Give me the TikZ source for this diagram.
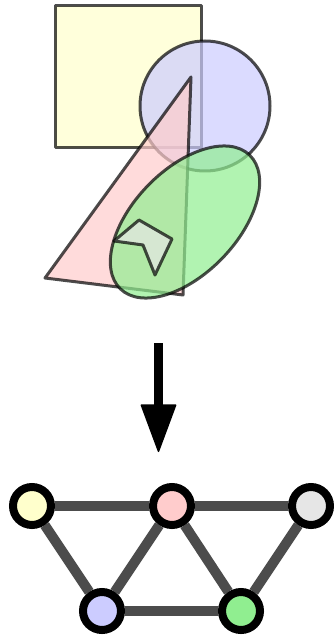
\documentclass[tikz,border=0pt]{standalone}
\usetikzlibrary{arrows.meta,backgrounds}
\definecolor{regyellow}{HTML}{FFFFCC}
\definecolor{regblue}{HTML}{CCCCFF}
\definecolor{regpink}{HTML}{FFCCCC}
\definecolor{reggreen}{HTML}{90EE90}
\definecolor{reggray}{HTML}{E6E6E6}
\tikzset{region/.style = {draw=black, line width=3pt, opacity=.7, line join=round},
  vertex/.style = {circle, draw=black, line width=8pt, minimum size=38pt, inner sep=0pt},
  link/.style = {draw=black!70, line width=10pt}}

\begin{document}
\begin{tikzpicture}[x=1pt, y=-1pt]
  \useasboundingbox (0,0) rectangle (334,636);
  % overlapping regions
  \path[region, fill=regyellow] (55,6) rectangle (201,148);
  \path[region, fill=regblue] (205,106) circle [radius=65];
  \path[region, fill=regpink] (191,77) -- (45,278) -- (183,295) -- cycle;
  \path[region, fill=reggreen, rotate around={46:(185,222)}]
    (185,222) ellipse [x radius=93, y radius=52];
  \path[region, fill=reggray] (139,220) -- (172,239) -- (155,275) -- (143,245)
    -- (114,241) -- cycle;
  % arrow
  \coordinate (arrtop) at (158.5,343);
  \coordinate (arrtip) at (158.5,452);
  \draw[line width=9pt, -{Triangle[length=49pt, width=36pt, round, line width=1.5pt]}]
    (arrtop) -- (arrtip);
  % adjacency graph
  \node[vertex, fill=regyellow] (vy) at (32,506) {};
  \node[vertex, fill=regpink] (vp) at (172,506) {};
  \node[vertex, fill=reggray] (vg) at (311,506) {};
  \node[vertex, fill=regblue] (vb) at (102,611) {};
  \node[vertex, fill=reggreen] (vn) at (241,611) {};
  \begin{scope}[on background layer]
    \path[link] (vy) -- (vp) -- (vg);
    \path[link] (vy) -- (vb) -- (vp) -- (vn) -- (vg);
    \path[link] (vb) -- (vn);
  \end{scope}
\end{tikzpicture}
\end{document}
